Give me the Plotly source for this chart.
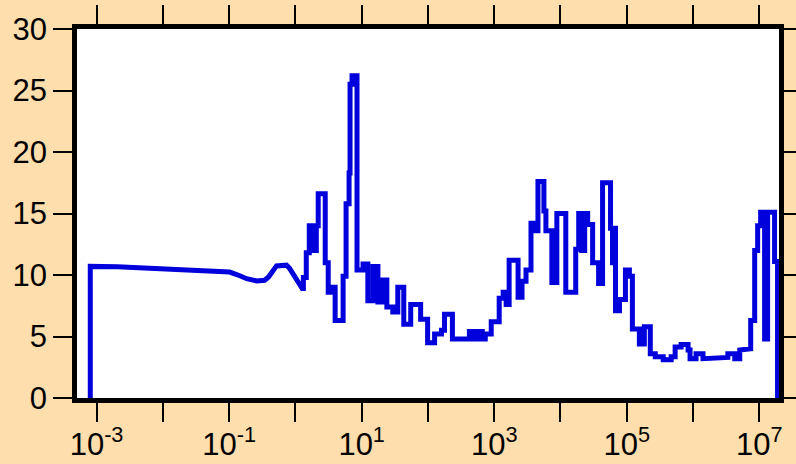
import plotly.graph_objects as go

# polyline vertices (x on log scale, y linear)
x_pts = [8.04e-4, 8.04e-4, 2.07e-3, 5.82e-3, 1.29e-2, 2.57e-2, 6.53e-2, 0.102, 0.145, 0.184,
         0.260, 0.343, 0.394, 0.463, 0.519, 0.733, 0.813, 1.27, 1.32, 1.32,
         1.46, 1.46, 1.62, 1.62, 1.86, 1.86, 2.07, 2.07, 2.21, 2.21,
         2.82, 2.82, 3.13, 3.13, 3.47, 3.47, 3.98, 3.98, 5.25, 5.25,
         5.82, 5.82, 6.46, 6.46, 6.68, 6.68, 7.16, 7.16, 8.51, 8.51,
         10.5, 10.5, 12.4, 12.4, 14.8, 14.8, 17.6, 17.6, 20.2, 20.2,
         24.0, 24.0, 29.5, 29.5, 35.1, 35.1, 43.2, 43.2, 55.0, 55.0,
         77.6, 77.6, 98.9, 98.9, 126, 126, 160, 160, 178, 178,
         234, 234, 422, 422, 501, 501, 575, 575, 661, 661,
         733, 733, 902, 902, 1189, 1189, 1365, 1365, 1514, 1514,
         1679, 1679, 2291, 2291, 2630, 2630, 3020, 3020, 3589, 3589,
         4121, 4121, 4571, 4571, 5623, 5623, 6026, 6026, 7413, 7413,
         8810, 8810, 12023, 12023, 16982, 16982, 18836, 18836, 20893, 20893,
         23174, 23174, 25704, 25704, 30549, 30549, 37584, 37584, 43152, 43152,
         56885, 56885, 60954, 60954, 63096, 63096, 67608, 67608, 77625, 77625,
         95499, 95499, 1.096e5, 1.096e5, 1.216e5, 1.216e5, 1.549e5, 1.549e5, 1.841e5, 1.841e5,
         2.265e5, 2.265e5, 2.692e5, 2.692e5, 3.548e5, 3.548e5, 4.677e5, 4.677e5, 5.37e5, 5.37e5,
         6.607e5, 6.607e5, 8.414e5, 8.414e5, 9.016e5, 9.016e5, 1.109e6, 1.109e6, 1.413e6, 1.413e6,
         2.138e6, 2.138e6, 3.35e6, 3.35e6, 4.266e6, 4.266e6, 5.07e6, 5.07e6, 6.026e6, 6.026e6,
         7.413e6, 7.413e6, 8.511e6, 8.511e6, 9.441e6, 9.441e6, 1.047e7, 1.047e7, 1.202e7, 1.202e7,
         1.334e7, 1.334e7, 1.698e7, 1.698e7, 1.884e7, 1.884e7]
y_pts = [0, 10.7, 10.68, 10.58, 10.5, 10.43, 10.37, 10.24, 9.94, 9.7,
         9.52, 9.57, 9.84, 10.29, 10.74, 10.8, 10.56, 8.9, 8.9, 9.8,
         9.8, 11.8, 11.8, 14.0, 14.0, 12.0, 12.0, 14.0, 14.0, 16.6,
         16.6, 11.0, 11.0, 8.6, 8.6, 9.0, 9.0, 6.3, 6.3, 9.9,
         9.9, 15.8, 15.8, 18.3, 18.3, 25.5, 25.5, 26.2, 26.2, 10.4,
         10.4, 10.9, 10.9, 7.9, 7.9, 10.7, 10.7, 7.8, 7.8, 9.6,
         9.6, 7.4, 7.4, 7.0, 7.0, 9.0, 9.0, 6.0, 6.0, 7.6,
         7.6, 6.4, 6.4, 4.5, 4.5, 5.2, 5.2, 5.5, 5.5, 6.8,
         6.8, 4.8, 4.8, 5.4, 5.4, 4.8, 4.8, 5.4, 5.4, 4.8,
         4.8, 5.2, 5.2, 6.2, 6.2, 8.1, 8.1, 8.6, 8.6, 7.6,
         7.6, 11.2, 11.2, 8.2, 8.2, 9.5, 9.5, 10.4, 10.4, 14.2,
         14.2, 13.6, 13.6, 17.6, 17.6, 15.2, 15.2, 13.6, 13.6, 9.4,
         9.4, 15.0, 15.0, 8.6, 8.6, 12.1, 12.1, 15.0, 15.0, 12.0,
         12.0, 15.0, 15.0, 14.1, 14.1, 11.0, 11.0, 9.3, 9.3, 17.5,
         17.5, 13.8, 13.8, 11.0, 11.0, 13.8, 13.8, 7.1, 7.1, 8.0,
         8.0, 10.4, 10.4, 9.9, 9.9, 5.6, 5.6, 4.4, 4.4, 5.8,
         5.8, 3.6, 3.6, 3.35, 3.35, 3.1, 3.1, 3.35, 3.35, 4.15,
         4.15, 4.35, 4.35, 3.9, 3.9, 3.2, 3.2, 3.6, 3.6, 3.2,
         3.2, 3.3, 3.3, 3.6, 3.6, 3.2, 3.2, 3.9, 3.9, 4.0,
         4.0, 6.3, 6.3, 12.0, 12.0, 14.0, 14.0, 15.1, 15.1, 4.8,
         4.8, 15.1, 15.1, 11.1, 11.1, 0]

x_tick_vals = [1e-3, 1e-2, 1e-1, 1e0, 1e1, 1e2, 1e3, 1e4, 1e5, 1e6, 1e7]
x_tick_text = ["10<sup>-3</sup>", "", "10<sup>-1</sup>", "", "10<sup>1</sup>", "",
               "10<sup>3</sup>", "", "10<sup>5</sup>", "", "10<sup>7</sup>"]
y_tick_vals = [0, 5, 10, 15, 20, 25, 30]

fig = go.Figure()
fig.add_trace(go.Scatter(x=x_pts, y=y_pts, mode="lines",
                         line=dict(color="#0000dd", width=5), showlegend=False))

axis_common = dict(showline=True, linecolor="black", linewidth=4.5, mirror="ticks",
                   ticks="outside", ticklen=19, tickwidth=2, tickcolor="black",
                   showgrid=False, zeroline=False, automargin=False,
                   tickfont=dict(family="Liberation Sans, Arial", size=31, color="black"))

fig.update_xaxes(type="log", range=[-3.295, 7.297], tickmode="array",
                 tickvals=x_tick_vals, ticktext=x_tick_text, ticklabelstandoff=-4,
                 **axis_common)
fig.update_yaxes(range=[0, 30], tickmode="array", tickvals=y_tick_vals, **axis_common)

fig.update_layout(width=796, height=464, paper_bgcolor="#FFDEAD", plot_bgcolor="white",
                  margin=dict(l=77, r=17, t=29, b=66))

fig.write_html("out.html", config={"displayModeBar": False},
               post_script="document.body.style.margin='0';"
                           "document.body.style.background='#FFDEAD';")
